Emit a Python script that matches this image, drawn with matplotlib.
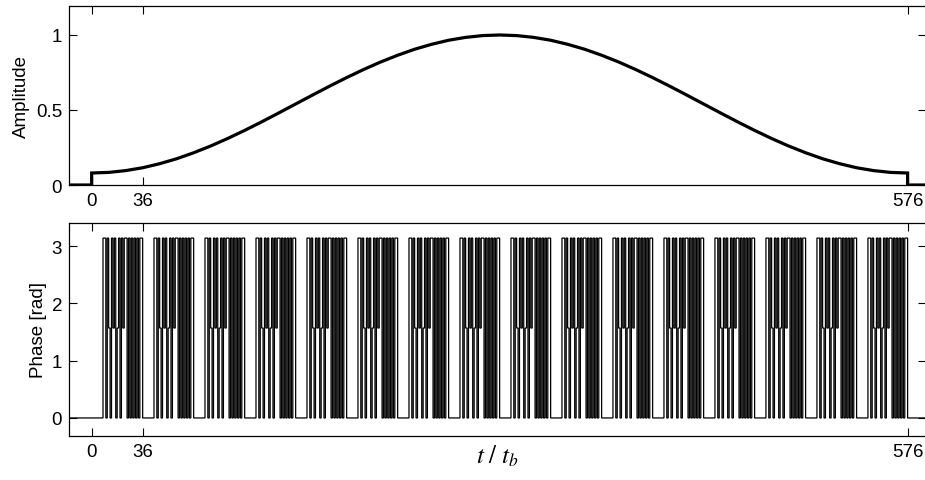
import numpy as np
import matplotlib
matplotlib.use("Agg")
import matplotlib.pyplot as plt

plt.rcParams["font.family"] = ["Liberation Sans", "DejaVu Sans"]
plt.rcParams["mathtext.fontset"] = "stix"
plt.rcParams["font.size"] = 13.5

# amplitude envelope, read every 12 t/t_b (window from 0 to 576)
amp_t = np.arange(0, 577, 12)
amp_vals = [0.080, 0.084, 0.096, 0.115, 0.142, 0.175, 0.215, 0.260, 0.310,
            0.364, 0.421, 0.480, 0.540, 0.600, 0.659, 0.716, 0.770, 0.820,
            0.865, 0.905, 0.938, 0.965, 0.984, 0.996, 1.000,
            0.996, 0.984, 0.965, 0.938, 0.905, 0.865, 0.820, 0.770, 0.716,
            0.659, 0.600, 0.540, 0.480, 0.421, 0.364, 0.310, 0.260, 0.215,
            0.175, 0.142, 0.115, 0.096, 0.084, 0.080]

# phase code of one 36-chip block, in units of pi/2 (repeats 16 times)
block_code = [0, 0, 0, 0, 0, 0, 0, 0,
              2, 2, 0, 2, 1, 0, 2, 1, 2, 0, 1, 2, 0, 2, 1, 2, 2, 0,
              2, 0, 2, 0, 2, 0, 2, 0, 2, 2]
n_blocks = 16

xticks = [0, 36, 576]
xlim = (-16, 589)

fig = plt.figure(figsize=(9.25, 4.81), dpi=100)
ax1 = fig.add_axes([0.0746, 0.6133, 0.9265, 0.3727])
ax2 = fig.add_axes([0.0746, 0.0921, 0.9265, 0.4416])

# amplitude with the on/off steps at 0 and 576
x_amp = np.concatenate([[xlim[0], amp_t[0]], amp_t, [amp_t[-1], xlim[1]]])
y_amp = np.concatenate([[0, 0], amp_vals, [0, 0]])
ax1.plot(x_amp, y_amp, color="black", linewidth=2.3, solid_joinstyle="miter")
ax1.set_ylim(0, 1.195)
ax1.set_yticks([0, 0.5, 1])
ax1.set_yticklabels(["0", "0.5", "1"])
ax1.set_ylabel("Amplitude", labelpad=4)

# phase
phase = np.tile(block_code, n_blocks) * np.pi / 2
edges = np.concatenate([[xlim[0]], np.arange(0, 36 * n_blocks + 1), [xlim[1]]])
ax2.stairs(np.concatenate([[0], phase, [0]]), edges, baseline=None,
           color="black", linewidth=0.9)
ax2.set_ylim(-0.31, 3.4)
ax2.set_yticks([0, 1, 2, 3])
ax2.set_ylabel("Phase [rad]", labelpad=3)
ax2.set_xlabel(r"$t\ /\ t_b$", fontsize=18, labelpad=-12)

for ax in (ax1, ax2):
    ax.set_xlim(*xlim)
    ax.set_xticks(xticks)
    ax.tick_params(direction="in", top=True, right=True, length=6,
                   width=0.8, pad=5, labelsize=13.5)
    for s in ax.spines.values():
        s.set_linewidth(0.9)

fig.savefig("out.png", dpi=100)
